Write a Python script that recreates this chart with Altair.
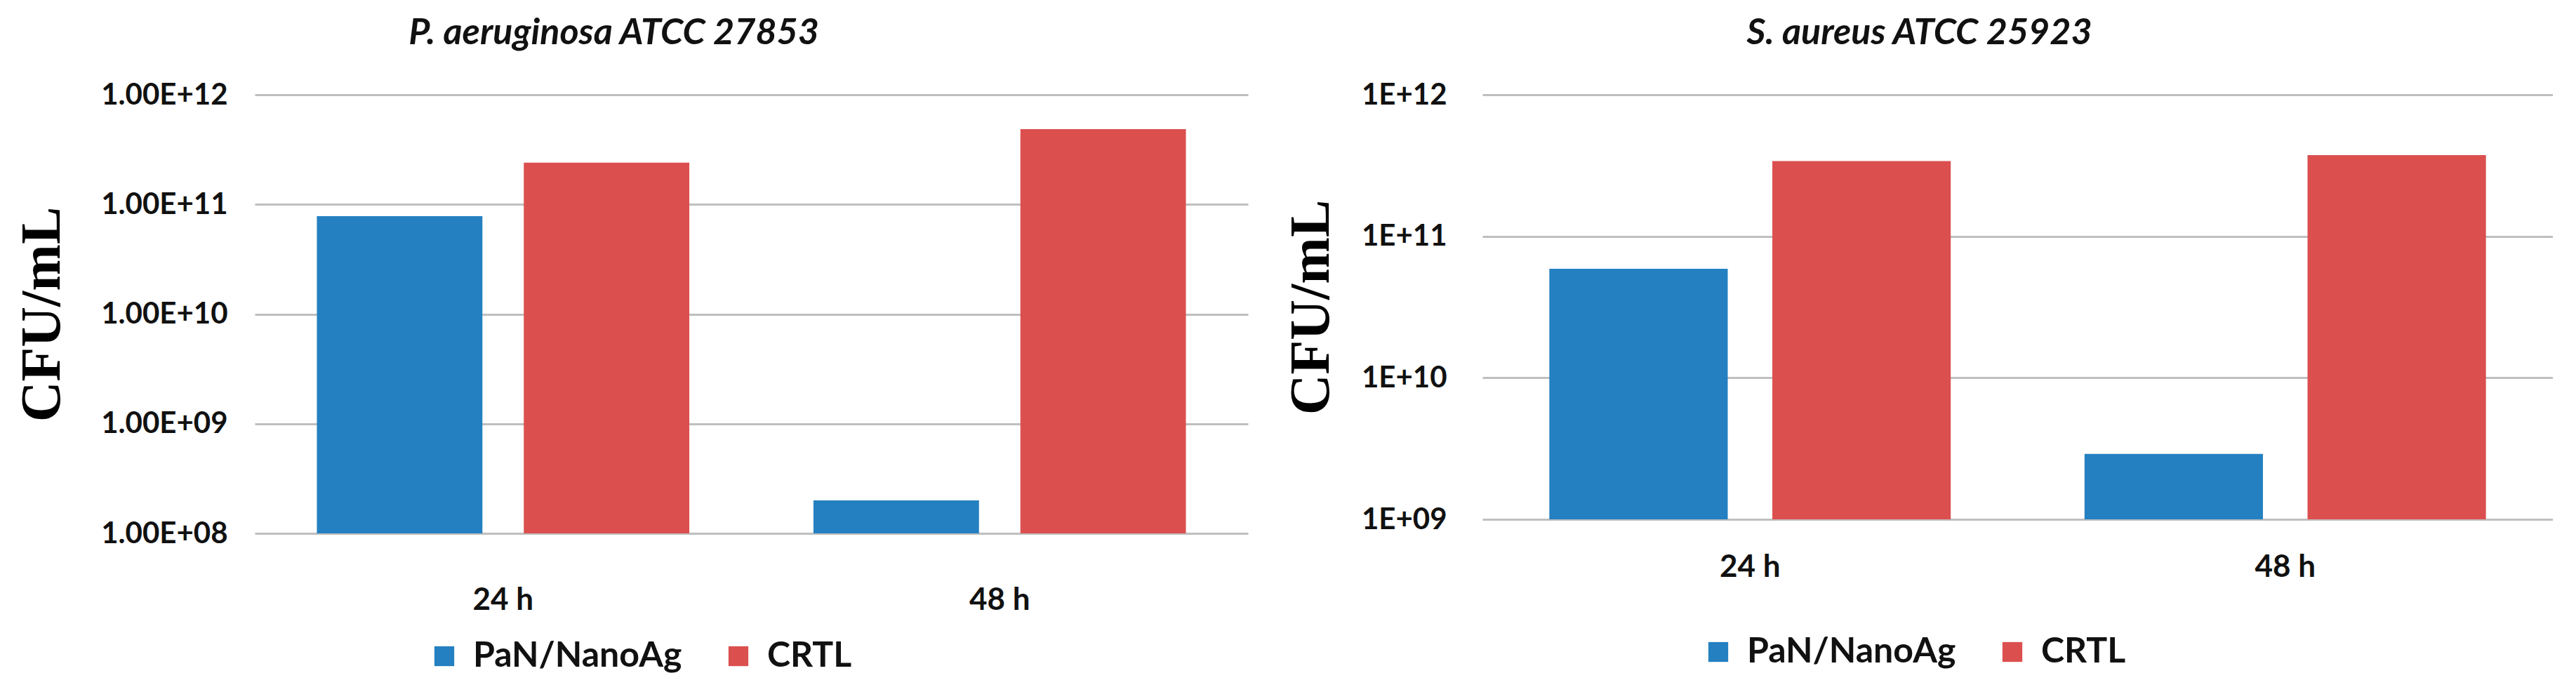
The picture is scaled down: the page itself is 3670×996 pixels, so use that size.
import altair as alt
import pandas as pd

times = ["24 h", "48 h"]
groups = ["PaN/NanoAg", "CRTL"]
colors = ["#2480C0", "#DB504F"]

# P. aeruginosa ATCC 27853
pa_nanoag = [7.8e10, 2.0e8]
pa_crtl = [2.4e11, 4.85e11]
pa_ticks = [1e8, 1e9, 1e10, 1e11, 1e12]
pa_tick_labels = ["1.00E+08", "1.00E+09", "1.00E+10", "1.00E+11", "1.00E+12"]

# S. aureus ATCC 25923
sa_nanoag = [5.9e10, 2.9e9]
sa_crtl = [3.4e11, 3.75e11]
sa_ticks = [1e9, 1e10, 1e11, 1e12]
sa_tick_labels = ["1E+09", "1E+10", "1E+11", "1E+12"]


def make_df(nano, crtl):
    rows = []
    for i, t in enumerate(times):
        rows.append({"time": t, "group": groups[0], "cfu": nano[i]})
        rows.append({"time": t, "group": groups[1], "cfu": crtl[i]})
    return pd.DataFrame(rows)


def label_expr(ticks, labels):
    import math
    first = int(round(math.log10(ticks[0])))
    arr = "[" + ",".join("'" + l + "'" for l in labels) + "]"
    return f"{arr}[round(log(datum.value)/LN10) - {first}]"


LABEL_FONT = "Lato"


def panel(df, title, ticks, labels, w, h, title_dx, lab_pad_y, lab_pad_x,
          title_pad, leg_x, leg_y):
    base = alt.Chart(df).mark_bar().encode(
        x=alt.X(
            "time:N",
            sort=times,
            scale=alt.Scale(paddingInner=0, paddingOuter=0),
            axis=alt.Axis(
                title=None, labelAngle=0, domain=False, ticks=False,
                labelFont=LABEL_FONT, labelFontWeight="bold", labelFontSize=44,
                labelColor="#111111", labelPadding=lab_pad_x, labelLimit=0,
            ),
        ),
        xOffset=alt.XOffset(
            "group:N", sort=groups,
            scale=alt.Scale(paddingInner=0.2, paddingOuter=0.3),
        ),
        y=alt.Y(
            "cfu:Q",
            scale=alt.Scale(type="log", domain=[ticks[0], ticks[-1]]),
            axis=alt.Axis(
                title="CFU/mL", values=ticks, labelExpr=label_expr(ticks, labels),
                domain=False, ticks=False, grid=True, gridColor="#BFBFBF", gridWidth=3,
                labelFont=LABEL_FONT, labelFontWeight="bold", labelFontSize=42,
                labelColor="#111111", labelPadding=lab_pad_y, labelLimit=0,
                titleFont="Liberation Serif", titleFontWeight="bold", titleFontSize=80,
                titleColor="#000000", titlePadding=title_pad, titleLimit=0,
            ),
        ),
        y2=alt.datum(ticks[0]),
        color=alt.Color(
            "group:N",
            scale=alt.Scale(domain=groups, range=colors),
            legend=alt.Legend(
                title=None, orient="none", direction="horizontal",
                legendX=leg_x, legendY=leg_y,
                symbolType="square", symbolSize=800, symbolStrokeWidth=0,
                symbolOpacity=1, labelLimit=0,
                labelFont=LABEL_FONT, labelFontWeight="bold", labelFontSize=50,
                labelColor="#111111", labelOffset=16, columnPadding=55,
            ),
        ),
    ).properties(
        width=w, height=h,
        title=alt.TitleParams(
            text=title, font=LABEL_FONT, fontSize=52, fontWeight="bold",
            fontStyle="italic", color="#111111", anchor="middle", dx=title_dx,
            offset=40,
        ),
    )
    return base


left = panel(make_df(pa_nanoag, pa_crtl), "P. aeruginosa ATCC 27853",
             pa_ticks, pa_tick_labels, 1415, 625, -196, 39, 73, 62, 245, 775)
right = panel(make_df(sa_nanoag, sa_crtl), "S. aureus ATCC 25923",
              sa_ticks, sa_tick_labels, 1525, 605, -140, 51, 46, 30, 311, 769)

chart = alt.hconcat(left, right, spacing=50).resolve_scale(
    x="independent", xOffset="independent", y="independent", color="independent"
).resolve_axis(x="independent", y="independent").resolve_legend(
    color="independent"
).properties(
    padding={"left": 12, "top": 13, "right": 0, "bottom": 0},
    background="white",
).configure_view(stroke=None)

chart.save("out.html", embed_options={"renderer": "svg", "actions": False})
